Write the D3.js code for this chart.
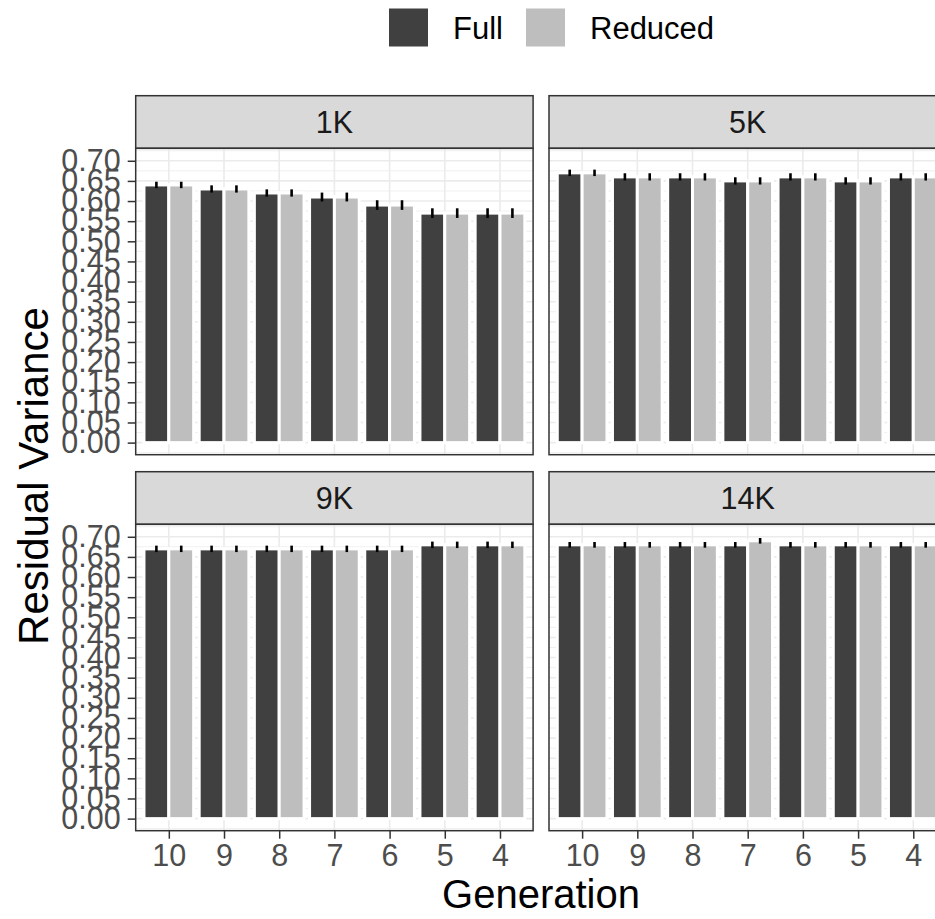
<!DOCTYPE html>
<html>
<head>
<meta charset="utf-8">
<script src="https://cdn.jsdelivr.net/npm/d3@7"></script>
<style>
  body { margin: 0; background: #fff; }
  svg { display: block; font-family: "Liberation Sans", Arial, Helvetica, sans-serif; }
</style>
</head>
<body>
<svg id="chart" width="935" height="919"></svg>
<script>
// ---- data ----
const generations = ["10", "9", "8", "7", "6", "5", "4"];
const panels = ["1K", "5K", "9K", "14K"];
const series = ["Full", "Reduced"];
const yTicks = d3.range(0, 0.7001, 0.05);

const full1K = [0.64, 0.63, 0.62, 0.61, 0.59, 0.57, 0.57];
const reduced1K = [0.64, 0.63, 0.62, 0.61, 0.59, 0.57, 0.57];
const err1K = [0.008, 0.009, 0.009, 0.011, 0.012, 0.012, 0.012];

const full5K = [0.67, 0.66, 0.66, 0.65, 0.66, 0.65, 0.66];
const reduced5K = [0.67, 0.66, 0.66, 0.65, 0.66, 0.65, 0.66];
const err5K = [0.008, 0.009, 0.009, 0.009, 0.009, 0.009, 0.009];

const full9K = [0.67, 0.67, 0.67, 0.67, 0.67, 0.68, 0.68];
const reduced9K = [0.67, 0.67, 0.67, 0.67, 0.67, 0.68, 0.68];
const err9K = [0.008, 0.008, 0.008, 0.008, 0.008, 0.008, 0.008];

const full14K = [0.68, 0.68, 0.68, 0.68, 0.68, 0.68, 0.68];
const reduced14K = [0.68, 0.68, 0.68, 0.69, 0.68, 0.68, 0.68];
const err14K = [0.007, 0.007, 0.007, 0.007, 0.007, 0.007, 0.007];

const colors = { Full: "#404040", Reduced: "#BEBEBE" };

const panelData = [
  { name: panels[0], full: full1K, reduced: reduced1K, err: err1K },
  { name: panels[1], full: full5K, reduced: reduced5K, err: err5K },
  { name: panels[2], full: full9K, reduced: reduced9K, err: err9K },
  { name: panels[3], full: full14K, reduced: reduced14K, err: err14K }
];

// ---- layout ----
const panelW = 397.4, panelH = 306.4, stripH = 52.6;
const colX = [135.7, 549];
const rowY = [95.7, 471.7];   // strip tops
const tickFont = 30.5, stripFont = 30.5, legendFont = 31;

const svg = d3.select("#chart");

const x = d3.scalePoint().domain(generations).range([0, panelW]).padding(0.6);
const barW = x.step() * 0.45;
const y = d3.scaleLinear().domain([-0.03, 0.731]).range([panelH, 0]);
const minorTicks = d3.range(-0.025, 0.73, 0.05);

panelData.forEach((p, i) => {
  const px = colX[i % 2], py = rowY[Math.floor(i / 2)];
  const g = svg.append("g").attr("transform", `translate(${px},${py})`);

  // strip
  g.append("rect")
    .attr("width", panelW).attr("height", stripH)
    .attr("fill", "#D9D9D9").attr("stroke", "#333333").attr("stroke-width", 1.5);
  g.append("text")
    .attr("x", panelW / 2).attr("y", stripH / 2).attr("dy", "0.36em")
    .attr("text-anchor", "middle").attr("font-size", stripFont).attr("fill", "#1A1A1A")
    .text(p.name);

  const body = g.append("g").attr("transform", `translate(0,${stripH})`);

  // grid
  body.append("g").selectAll("line").data(minorTicks).join("line")
    .attr("x1", 0).attr("x2", panelW)
    .attr("y1", d => y(d)).attr("y2", d => y(d))
    .attr("stroke", "#EBEBEB").attr("stroke-width", 0.8);
  body.append("g").selectAll("line").data(yTicks).join("line")
    .attr("x1", 0).attr("x2", panelW)
    .attr("y1", d => y(d)).attr("y2", d => y(d))
    .attr("stroke", "#EBEBEB").attr("stroke-width", 1.6);
  body.append("g").selectAll("line").data(generations).join("line")
    .attr("x1", d => x(d)).attr("x2", d => x(d))
    .attr("y1", 0).attr("y2", panelH)
    .attr("stroke", "#EBEBEB").attr("stroke-width", 1.6);

  // bars, dodged Full | Reduced around each generation
  const rows = [];
  generations.forEach((gen, j) => {
    rows.push({ gen, s: "Full", v: p.full[j], e: p.err[j] });
    rows.push({ gen, s: "Reduced", v: p.reduced[j], e: p.err[j] });
  });
  const xPos = d => x(d.gen) + (d.s === "Full" ? -barW : 0);

  body.append("g").selectAll("rect").data(rows).join("rect")
    .attr("x", xPos)
    .attr("y", d => y(d.v))
    .attr("width", barW)
    .attr("height", d => y(0) - y(d.v))
    .attr("fill", d => colors[d.s])
    .attr("stroke", "#FFFFFF").attr("stroke-width", 3);

  body.append("g").selectAll("line").data(rows).join("line")
    .attr("x1", d => xPos(d) + barW / 2).attr("x2", d => xPos(d) + barW / 2)
    .attr("y1", d => y(d.v + d.e)).attr("y2", d => y(d.v - d.e))
    .attr("stroke", "#000").attr("stroke-width", 2.6);

  // border
  body.append("rect")
    .attr("width", panelW).attr("height", panelH)
    .attr("fill", "none").attr("stroke", "#333333").attr("stroke-width", 1.5);

  // y axis on left column
  if (i % 2 === 0) {
    const ya = body.append("g")
      .call(d3.axisLeft(y).tickValues(yTicks).tickFormat(d3.format(".2f")).tickSize(8).tickPadding(7));
    ya.select(".domain").remove();
    ya.selectAll("line").attr("stroke", "#333333").attr("stroke-width", 1.5);
    ya.selectAll("text").attr("font-size", tickFont).attr("fill", "#4D4D4D")
      .attr("font-family", "Liberation Sans, Arial, sans-serif");
  }
  // x axis on bottom row
  if (i >= 2) {
    const xa = body.append("g").attr("transform", `translate(0,${panelH})`)
      .call(d3.axisBottom(x).tickSize(8).tickPadding(6));
    xa.select(".domain").remove();
    xa.selectAll("line").attr("stroke", "#333333").attr("stroke-width", 1.5);
    xa.selectAll("text").attr("font-size", tickFont).attr("fill", "#4D4D4D")
      .attr("font-family", "Liberation Sans, Arial, sans-serif");
  }
});

// axis titles
svg.append("text")
  .attr("x", (colX[0] + colX[1] + panelW) / 2).attr("y", 908)
  .attr("text-anchor", "middle").attr("font-size", 40).attr("fill", "#000")
  .text("Generation");
svg.append("text")
  .attr("transform", "translate(48,476) rotate(-90)")
  .attr("text-anchor", "middle").attr("font-size", 42).attr("fill", "#000")
  .text("Residual Variance");

// legend
const legend = svg.append("g");
const legendX = [389, 526];
series.forEach((s, k) => {
  legend.append("rect")
    .attr("x", legendX[k]).attr("y", 8.5).attr("width", 39).attr("height", 38)
    .attr("fill", colors[s]);
  legend.append("text")
    .attr("x", legendX[k] + 64).attr("y", 28).attr("dy", "0.36em")
    .attr("font-size", legendFont).attr("fill", "#000")
    .text(s);
});
</script>
</body>
</html>
